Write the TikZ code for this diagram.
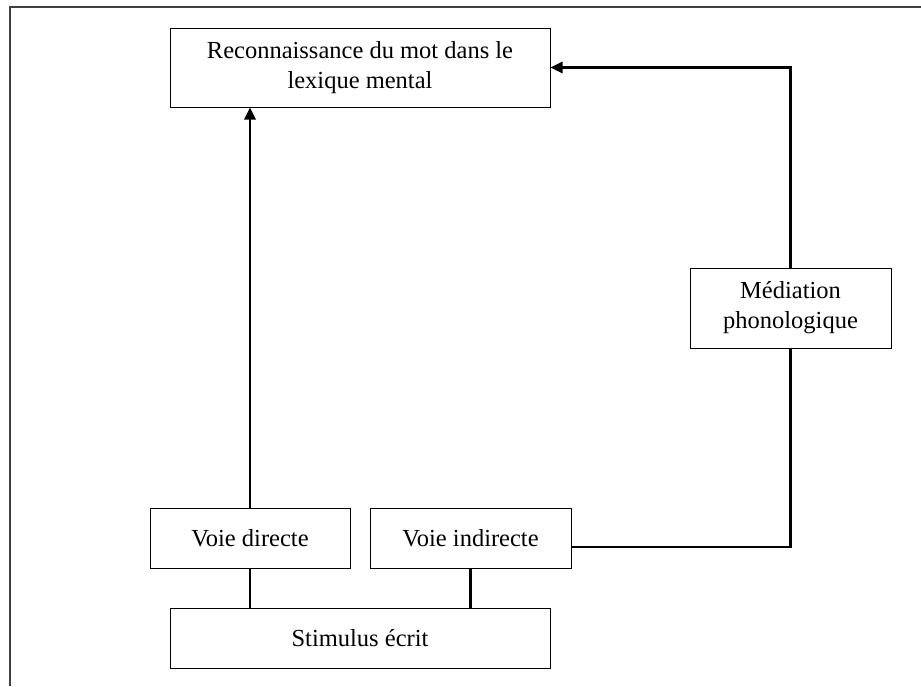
\documentclass[tikz,border=0pt]{standalone}
\usepackage{fontspec}
\setmainfont{Liberation Serif}
\usetikzlibrary{positioning}
\usetikzlibrary{arrows.meta}

\begin{document}
\begin{tikzpicture}[x=1pt,y=-1pt,
  boite/.style={rectangle,draw=black,line width=1pt,align=center,inner sep=0pt,
                font=\fontsize{24.5}{30}\selectfont},
  lien/.style={line width=2.6pt}]
\useasboundingbox (0,0) rectangle (921,686);
\draw[line width=1.6pt,black!75] (10,686) -- (10,7) -- (921,7);

\node at (360,67.5) [boite,minimum width=380pt,minimum height=79pt] (reco) {Reconnaissance du mot dans le\\
									    lexique mental};
\node at (790.5,308) [boite,minimum width=201pt,minimum height=80pt] (med) {M\'ediation\\
									    phonologique};

\node at (250,538) [boite,minimum width=200pt,minimum height=60pt] (vdir) {Voie directe};
\node at (470.5,538) [boite,minimum width=201pt,minimum height=60pt] (vind) {Voie indirecte};
\node at (360,638) [boite,minimum width=380pt,minimum height=60pt] (stim) {Stimulus \'ecrit};

\draw[lien] (stim.north -| vdir.south) -- (vdir.south);
\draw[lien] (stim.north -| vind.south) -- (vind.south);
\draw[lien,-{Triangle[length=12pt,width=11pt]}] (vdir.north) -- (vdir.north |- reco.south);
\draw[lien] ([yshift=-9pt]vind.east) -| (med.south);
\draw[lien,-{Triangle[length=12pt,width=11pt]}] (med.north) |- (reco.east);
\end{tikzpicture}
\end{document}
